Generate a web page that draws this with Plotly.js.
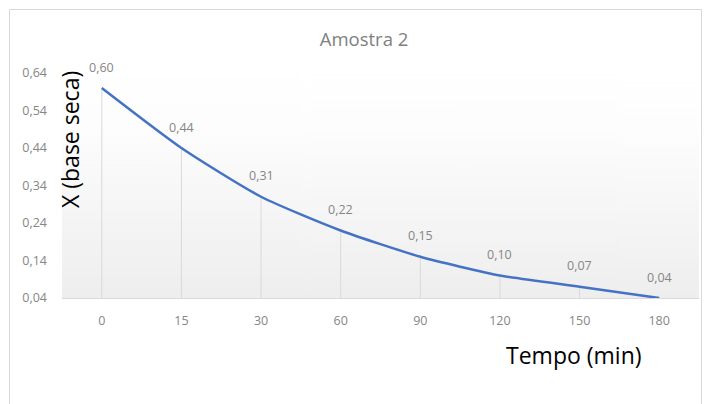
<!DOCTYPE html>
<html>
<head>
<meta charset="utf-8">
<script src="https://cdn.plot.ly/plotly-3.0.1.min.js"></script>
<style>
  html, body { margin: 0; padding: 0; background: #ffffff; }
  #chart { width: 704px; height: 404px; }
</style>
</head>
<body>
<div id="chart"></div>
<script>
// Drying curve, sample 2: moisture content (dry basis) vs. time
const tempos = ['0', '15', '30', '60', '90', '120', '150', '180'];
const umidade = [0.60, 0.44, 0.31, 0.22, 0.15, 0.10, 0.07, 0.04];
const rotulos = ['0,60', '0,44', '0,31', '0,22', '0,15', '0,10', '0,07', '0,04'];
const yTicks = [0.04, 0.14, 0.24, 0.34, 0.44, 0.54, 0.64];

const yMin = 0.04, yMax = 0.64;

// pixel frame of the plotting area
const W = 704, H = 404;
const L = 62, R = 699, T = 73, B = 298;
const px = x => (x - L) / (R - L);
const py = y => (B - y) / (B - T);

// vertical background gradient for the plot area
function gradiente() {
  const c = document.createElement('canvas');
  c.width = 4; c.height = 256;
  const g = c.getContext('2d');
  const lg = g.createLinearGradient(0, 0, 0, 256);
  lg.addColorStop(0, '#ffffff');
  lg.addColorStop(0.25, '#fdfdfd');
  lg.addColorStop(1, '#eeeeee');
  g.fillStyle = lg;
  g.fillRect(0, 0, 4, 256);
  return c.toDataURL('image/png');
}

const FAM = '"Open Sans", Lato, sans-serif';
const gray = '#868686';
const labelFont = { family: FAM, size: 12.5, color: gray };

// drop lines from each point down to the category axis
const quedas = {
  type: 'scatter', mode: 'markers', x: tempos, y: umidade,
  marker: { size: 0.1, color: 'rgba(0,0,0,0)' },
  error_y: {
    type: 'data', symmetric: false,
    array: umidade.map(() => 0),
    arrayminus: umidade.map(v => v - yMin),
    color: '#d9d9d9', thickness: 1, width: 0
  },
  hoverinfo: 'skip', showlegend: false
};

const curva = {
  type: 'scatter', mode: 'lines', x: tempos, y: umidade,
  line: { color: '#4472C4', width: 2.5, shape: 'spline', smoothing: 0.6 },
  showlegend: false
};

// value labels above each point (category index as x position)
const rotulosAnn = tempos.map((t, i) => ({
  x: i, y: umidade[i], xref: 'x', yref: 'y',
  text: rotulos[i], showarrow: false, yshift: 21,
  font: labelFont
}));

const layout = {
  width: W, height: H,
  margin: { l: L, r: W - R, t: T, b: H - B, pad: 0 },
  paper_bgcolor: '#ffffff',
  plot_bgcolor: 'rgba(0,0,0,0)',
  separators: ',.',
  showlegend: false,
  title: {
    text: 'Amostra 2',
    font: { family: FAM, size: 18.5, color: '#808080' },
    xref: 'container', yref: 'container',
    x: 364 / W, y: 1 - 40 / H, xanchor: 'center', yanchor: 'middle'
  },
  xaxis: {
    type: 'category', range: [-0.5, tempos.length - 0.5],
    showgrid: false, zeroline: false,
    showline: true, linecolor: '#d9d9d9', linewidth: 1,
    ticks: '', ticklabelstandoff: 11,
    tickfont: labelFont, fixedrange: true
  },
  yaxis: {
    range: [yMin, yMax], tickmode: 'array', tickvals: yTicks,
    tickformat: '.2f',
    showgrid: false, zeroline: false, showline: false,
    ticks: '', ticklabelstandoff: 14,
    tickfont: labelFont, fixedrange: true
  },
  images: [{
    source: gradiente(), xref: 'paper', yref: 'paper',
    x: 0, y: 1, sizex: 1, sizey: 1, xanchor: 'left', yanchor: 'top',
    sizing: 'stretch', layer: 'below'
  }],
  shapes: [{
    type: 'rect', xref: 'paper', yref: 'paper',
    x0: px(9.5), x1: px(701.5), y0: py(H + 5), y1: py(9.5),
    line: { color: '#d9d9d9', width: 1 }, fillcolor: 'rgba(0,0,0,0)',
    layer: 'below'
  }],
  annotations: rotulosAnn.concat([
    {
      text: 'X (base seca)', xref: 'paper', yref: 'paper',
      x: px(70), y: py(140), textangle: -90, showarrow: false,
      xanchor: 'center', yanchor: 'middle',
      font: { family: FAM, size: 23, color: '#000000' }
    },
    {
      text: 'Tempo (min)', xref: 'paper', yref: 'paper',
      x: px(574), y: py(355), showarrow: false,
      xanchor: 'center', yanchor: 'middle',
      font: { family: FAM, size: 23, color: '#000000' }
    }
  ])
};

Plotly.newPlot('chart', [quedas, curva], layout, { staticPlot: true, displayModeBar: false });
</script>
</body>
</html>
